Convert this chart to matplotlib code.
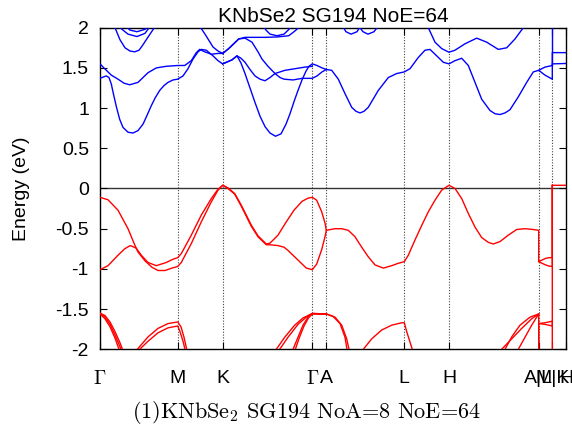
import matplotlib
matplotlib.use('Agg')
import matplotlib.pyplot as plt
import numpy as np

plt.rcParams['mathtext.fontset'] = 'cm'
plt.rcParams['axes.unicode_minus'] = False

# high-symmetry path
kpath_pos = [0.0, 0.777, 1.227, 2.123, 2.263, 3.043, 3.49, 4.387, 4.523, 4.66]
kpath_labels = [r'$\Gamma$', 'M', 'K', r'$\Gamma$', 'A', 'L', 'H', 'A|L', 'M|K', 'H']
yticks = [-2, -1.5, -1, -0.5, 0, 0.5, 1, 1.5, 2]
ytick_labels = ['-2', '-1.5', '-1', '-0.5', '0', '0.5', '1', '1.5', '2']

# ---------------- valence bands (k, E) ----------------
vb_top1 = [(0.00,-0.11),(0.08,-0.14),(0.18,-0.27),(0.28,-0.50),(0.347,-0.70),(0.38,-0.79),
           (0.45,-0.90),(0.52,-0.98),(0.58,-1.02),(0.65,-1.02),(0.72,-0.99),(0.777,-0.97),
           (0.813,-0.92),(0.913,-0.685),(1.013,-0.415),(1.113,-0.166),(1.18,-0.021),(1.227,0.04),
           (1.28,0.008),(1.347,-0.063),(1.413,-0.208),(1.513,-0.456),(1.58,-0.589),(1.663,-0.69),
           (1.70,-0.68),(1.78,-0.58),(1.86,-0.42),(1.94,-0.27),(2.02,-0.16),(2.08,-0.12),(2.123,-0.11),
           (2.167,-0.146),(2.217,-0.29),(2.25,-0.43),(2.263,-0.52),
           (2.35,-0.50),(2.417,-0.50),(2.483,-0.52),(2.55,-0.60),(2.617,-0.73),(2.683,-0.85),
           (2.75,-0.95),(2.833,-0.99),(2.917,-0.96),(2.983,-0.93),(3.043,-0.91),
           (3.083,-0.83),(3.15,-0.64),(3.217,-0.46),(3.283,-0.29),(3.35,-0.145),(3.417,-0.02),(3.49,0.04),
           (3.55,0.0),(3.617,-0.125),(3.683,-0.31),(3.75,-0.48),(3.817,-0.61),(3.883,-0.67),
           (3.933,-0.69),(4.00,-0.66),(4.083,-0.58),(4.167,-0.51),(4.25,-0.50),(4.333,-0.51),(4.387,-0.52),
           (4.387,-0.91),(4.42,-0.89),(4.455,-0.87),(4.49,-0.86),(4.523,-0.86),
           (4.523,0.04),(4.66,0.04)]
vb_top2a = [(0.00,-1.01),(0.08,-0.96),(0.18,-0.83),(0.247,-0.75),(0.303,-0.71),(0.36,-0.74),
            (0.413,-0.83),(0.48,-0.92),(0.563,-0.96),(0.663,-0.92),(0.73,-0.88),(0.777,-0.86),
            (0.813,-0.81),(0.913,-0.58),(1.013,-0.33),(1.113,-0.125),(1.18,-0.009),(1.227,0.04),
            (1.28,0.0),(1.347,-0.07),(1.413,-0.22),(1.513,-0.47),(1.58,-0.60),(1.663,-0.70),
            (1.70,-0.70),(1.78,-0.71),(1.84,-0.73),(1.88,-0.77),(1.98,-0.89),(2.063,-0.99),(2.123,-1.01),
            (2.167,-0.94),(2.217,-0.76),(2.25,-0.60),(2.263,-0.52)]
vb_top2b = [(4.387,-0.91),(4.42,-0.93),(4.455,-0.95),(4.49,-0.965),(4.523,-0.97),(4.523,0.04)]
vb_low = [
    [(0.0,-1.55),(0.05,-1.58),(0.10,-1.66),(0.15,-1.78),(0.20,-1.92),(0.24,-2.05),(0.27,-2.15)],
    [(0.0,-1.555),(0.05,-1.60),(0.10,-1.69),(0.15,-1.82),(0.20,-1.97),(0.23,-2.07),(0.26,-2.15)],
    [(0.0,-1.56),(0.05,-1.62),(0.10,-1.72),(0.15,-1.86),(0.19,-2.0),(0.22,-2.1)],
    [(0.35,-2.12),(0.373,-2.0),(0.48,-1.846),(0.58,-1.74),(0.68,-1.68),(0.777,-1.66),
     (0.81,-1.72),(0.84,-1.85),(0.867,-2.0),(0.89,-2.1)],
    [(0.38,-2.12),(0.397,-2.0),(0.48,-1.90),(0.58,-1.795),(0.68,-1.733),(0.777,-1.71),
     (0.80,-1.78),(0.83,-1.90),(0.86,-2.05)],
    [(1.74,-2.1),(1.763,-2.0),(1.847,-1.85),(1.947,-1.70),(2.03,-1.61),(2.123,-1.555),
     (2.263,-1.56),(2.35,-1.60),(2.417,-1.70),(2.467,-1.87),(2.49,-2.0),(2.51,-2.1)],
    [(1.78,-2.1),(1.797,-2.0),(1.88,-1.85),(1.98,-1.69),(2.063,-1.60),(2.123,-1.555),
     (2.263,-1.56),(2.33,-1.59),(2.40,-1.68),(2.45,-1.85),(2.47,-2.0),(2.49,-2.1)],
    [(1.91,-2.1),(1.93,-2.0),(1.98,-1.85),(2.03,-1.70),(2.08,-1.60),(2.123,-1.555),(2.263,-1.56)],
    [(1.935,-2.1),(1.953,-2.0),(1.995,-1.85),(2.04,-1.71),(2.085,-1.61),(2.123,-1.56),(2.263,-1.565)],
    [(2.613,-2.1),(2.633,-2.0),(2.717,-1.87),(2.817,-1.76),(2.917,-1.70),(3.017,-1.67),(3.043,-1.67),
     (3.067,-1.78),(3.10,-1.91),(3.123,-2.0),(3.14,-2.1)],
    [(3.997,-2.1),(4.017,-2.0),(4.117,-1.87),(4.217,-1.74),(4.317,-1.62),(4.387,-1.56),(4.387,-2.1)],
    [(4.03,-2.1),(4.05,-2.0),(4.12,-1.84),(4.20,-1.70),(4.30,-1.60),(4.387,-1.56)],
    [(4.17,-2.1),(4.183,-2.0),(4.25,-1.85),(4.317,-1.70),(4.367,-1.60),(4.387,-1.56)],
    [(4.387,-2.1),(4.387,-1.68),(4.45,-1.67),(4.523,-1.65),(4.523,-2.1)],
    [(4.387,-1.68),(4.45,-1.69),(4.523,-1.71),(4.523,0.04)],
]

# ---------------- conduction bands (k, E) ----------------
cb_gm_low = [(0.00,1.37),(0.04,1.39),(0.063,1.40),(0.09,1.38),(0.113,1.30),(0.13,1.20),(0.163,1.02),
             (0.197,0.86),(0.23,0.76),(0.28,0.70),(0.33,0.69),(0.38,0.72),(0.43,0.80),(0.463,0.89),
             (0.513,1.03),(0.553,1.13),(0.597,1.22),(0.64,1.28),(0.68,1.32),(0.73,1.35),(0.777,1.36),
             (0.83,1.40),(0.88,1.49),(0.93,1.61),(0.98,1.70),(1.013,1.73),(1.063,1.72),(1.13,1.65),
             (1.18,1.59),(1.227,1.55)]
cb_gm_mid = [(0.00,1.55),(0.047,1.49),(0.113,1.41),(0.18,1.36),(0.24,1.31),(0.297,1.29),(0.38,1.32),
             (0.48,1.44),(0.563,1.50),(0.663,1.52),(0.777,1.53),
             (0.847,1.53),(0.913,1.59),(0.963,1.69),(0.997,1.73),(1.047,1.70),(1.113,1.67),(1.18,1.68),
             (1.227,1.68)]
cb_kg_deep = [(1.227,1.55),(1.32,1.60),(1.37,1.65),(1.41,1.56),(1.45,1.43),(1.50,1.25),(1.55,1.07),
              (1.60,0.90),(1.65,0.77),(1.70,0.69),(1.755,0.65),(1.81,0.68),(1.86,0.80),(1.90,0.93),
              (1.94,1.08),(1.98,1.22),(2.02,1.35),(2.06,1.46),(2.09,1.52),(2.123,1.55),
              (2.17,1.53),(2.22,1.50),(2.263,1.48)]
cb_kg_shallow = [(1.227,1.55),(1.32,1.60),(1.37,1.65),(1.41,1.62),(1.45,1.57),(1.50,1.48),(1.55,1.40),
                 (1.60,1.36),(1.65,1.34),(1.70,1.38),(1.75,1.43),(1.85,1.47),(1.95,1.49),(2.05,1.51),
                 (2.123,1.52)]
cb_kg_diag = [(1.227,1.68),(1.287,1.74),(1.387,1.86),(1.45,1.87),(1.52,1.82),(1.58,1.70),(1.62,1.61),
              (1.68,1.52),(1.75,1.43),(1.80,1.38),(1.84,1.36),(1.93,1.35),(2.02,1.37),(2.123,1.37),
              (2.17,1.40),(2.22,1.45),(2.263,1.48)]
cb_kg_flat = [(1.227,1.68),(1.287,1.74),(1.387,1.86),(1.45,1.88),(1.55,1.88),(1.65,1.88),(1.77,1.885),
              (1.887,1.90),(1.94,1.95),(1.987,2.0),(2.01,2.05)]
cb_al_low = [(2.263,1.48),(2.317,1.47),(2.383,1.36),(2.45,1.18),(2.517,1.01),(2.56,0.96),(2.60,0.94),
             (2.64,0.96),(2.683,1.01),(2.783,1.22),(2.883,1.38),(2.967,1.43),(3.043,1.45),
             (3.10,1.49),(3.183,1.63),(3.25,1.72),(3.30,1.73),(3.367,1.65),(3.433,1.57),(3.49,1.55),
             (3.55,1.59),(3.617,1.62),(3.683,1.53),(3.75,1.32),(3.817,1.11),(3.90,0.97),(3.95,0.93),
             (4.00,0.92),(4.05,0.94),(4.10,0.98),(4.183,1.14),(4.267,1.32),(4.333,1.45),(4.387,1.47),
             (4.45,1.41),(4.523,1.36),(4.523,1.55),(4.66,1.555)]
cb_lm_up = [(4.387,1.47),(4.45,1.51),(4.523,1.53),(4.523,1.69),(4.66,1.69)]
cb_mk_jump = [(4.523,1.53),(4.523,2.1)]
cb_upper = [
    [(0.13,2.05),(0.15,2.0),(0.20,1.85),(0.25,1.75),(0.30,1.71),(0.347,1.70),(0.39,1.72),
     (0.42,1.77),(0.50,1.92),(0.57,2.05)],
    [(0.18,2.05),(0.22,1.98),(0.28,1.92),(0.37,1.89),(0.45,1.93),(0.52,2.05)],
    [(0.23,2.05),(0.30,1.97),(0.37,1.95),(0.45,1.98),(0.50,2.05)],
    [(0.98,2.05),(1.05,1.92),(1.13,1.76),(1.18,1.71),(1.227,1.68)],
    [(1.62,2.05),(1.66,1.97),(1.70,1.92),(1.77,1.90),(1.84,1.92),(1.89,1.98),(1.92,2.05)],
    [(2.41,2.05),(2.46,1.95),(2.51,1.92),(2.57,1.95),(2.62,2.05)],
    [(2.57,2.05),(2.63,1.95),(2.68,1.92),(2.74,1.95),(2.80,2.05)],
    [(3.27,2.05),(3.283,2.0),(3.35,1.82),(3.417,1.74),(3.49,1.695),(3.55,1.72),(3.65,1.80),
     (3.767,1.87),(3.867,1.82),(3.983,1.73),(4.067,1.75),(4.15,1.86),(4.233,2.0),(4.26,2.05)],
]

fig = plt.figure(figsize=(5.72, 4.36), dpi=100)
ax = fig.add_axes([100/572, 1-349.3/436, 466/572, (349.3-27.7)/436])

for kx in kpath_pos[1:-1]:
    ax.axvline(kx, color='#444444', lw=0.8, ls=(0, (1, 1.5)), zorder=1)
ax.axhline(0, color='#333333', lw=1.0, zorder=1)

def draw(band, color):
    k = [p[0] for p in band]
    e = [p[1] for p in band]
    ax.plot(k, e, color=color, lw=1.0, zorder=3)

for b in [vb_top1, vb_top2a, vb_top2b] + vb_low:
    draw(b, '#ff0000')
for b in [cb_gm_low, cb_gm_mid, cb_kg_deep, cb_kg_shallow, cb_kg_diag, cb_kg_flat,
          cb_al_low, cb_lm_up, cb_mk_jump] + cb_upper:
    draw(b, '#0000ff')

ax.set_xlim(kpath_pos[0], kpath_pos[-1])
ax.set_ylim(-2, 2)
ax.set_yticks(yticks)
ax.set_yticklabels(ytick_labels, fontfamily='Liberation Sans', fontsize=14)
ax.set_xticks(kpath_pos)
ax.set_xticklabels(kpath_labels, fontfamily='Liberation Sans', fontsize=14)
ax.tick_params(axis='both', direction='in', length=5, width=0.8, top=True, right=True)
ax.tick_params(axis='x', pad=15)
ax.tick_params(axis='y', pad=8)
for s in ax.spines.values():
    s.set_linewidth(1.0)
ax.set_ylabel('Energy (eV)', fontfamily='Liberation Sans', fontsize=14, labelpad=18)
ax.set_title('KNbSe2 SG194 NoE=64', fontfamily='Liberation Sans', fontsize=15, pad=4)

fig.text(306/572, 1-412/436, r'(1)KNbSe$_2$ SG194 NoA=8 NoE=64', fontfamily='cmr10',
         fontsize=16, ha='center', va='center')

fig.savefig('out.png', dpi=100)
